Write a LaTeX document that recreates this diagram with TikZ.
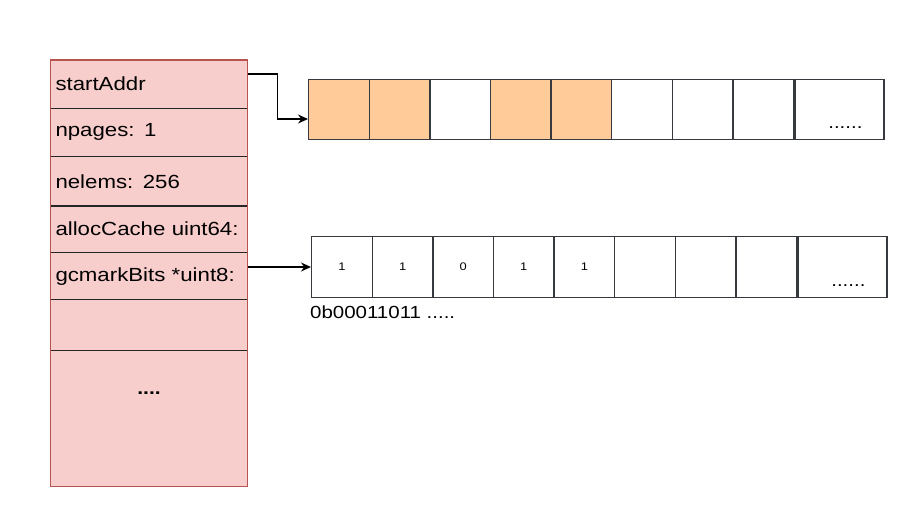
\documentclass[tikz,border=0pt]{standalone}
\usepackage{fontspec}
\setmainfont{Liberation Sans}[FakeStretch=1.17]
\usepackage{xcolor}
\usepackage{tikz}
\usetikzlibrary{arrows.meta,positioning}

\definecolor{rowpink}{HTML}{F8CECC}
\definecolor{rowedge}{HTML}{B85450}
\definecolor{pagefill}{HTML}{FFCC99}
\definecolor{cellline}{HTML}{36393D}

\begin{document}
\begin{tikzpicture}[
  x=1pt,y=-1pt,>={Stealth[length=10pt,width=9pt]},
  link/.style={->,line width=1.3pt},
  row/.style={fill=rowpink,minimum width=197pt,text width=187pt,
    inner xsep=5pt,inner ysep=0pt,align=left,
    font=\fontsize{19}{23}\selectfont},
  sep/.style={line width=1.3pt,black!85},
  frame/.style={line width=1.4pt,draw=rowedge},
  cell/.style={draw=cellline,line width=1.4pt,minimum width=60.6pt,
    minimum height=60.5pt,inner sep=0pt,anchor=west},
  dots/.style={font=\fontsize{17.5}{20}\selectfont},
  bitval/.style={font=\fontsize{11}{13}\selectfont}
]
  \useasboundingbox (0,0) rectangle (916,504);

  % span fields
  \node[row,minimum height=48pt] (start) at (149,84) {startAddr};
  \node[row,minimum height=48pt,below=0pt of start] (npages) {npages: 1};
  \node[row,minimum height=49pt,below=0pt of npages] (nelems) {nelems: 256};
  \node[row,minimum height=46pt,below=0pt of nelems] (alloc)
    {allocCache uint64:};
  \node[row,minimum height=47pt,below=0pt of alloc] (gcmark)
    {gcmarkBits *uint8:};
  \node[row,minimum height=50pt,below=0pt of gcmark] (blank) {};
  \node[row,minimum height=136pt,below=0pt of blank] (more) {};
  \node[font=\fontsize{18}{20}\bfseries\selectfont] (moredots)
    at (149,393) {....};
  \foreach \r in {start,npages,nelems,alloc,gcmark,blank}
    \draw[sep] (\r.south west) -- (\r.south east);
  \draw[frame] (start.north west) rectangle (more.south east);

  % pages
  \foreach \c [count=\i from 0] in
      {pagefill,pagefill,white,pagefill,pagefill,white,white,white}
    \node[cell,fill=\c] (top\i) at (308+60.6*\i,109.5) {};
  \node[cell,minimum width=89pt] (topend) at (top7.east) {};
  \node[dots,above=8pt of topend.south,xshift=6pt] (topdots) {......};

  % mark bits
  \foreach \v [count=\i from 0] in {1,1,0,1,1,{},{},{}}
    \node[cell,bitval] (bit\i) at (311+60.6*\i,267) {\v};
  \node[cell,minimum width=89pt] (bitend) at (bit7.east) {};
  \node[dots,above=8pt of bitend.south,xshift=6pt] (bitdots) {......};
  \node[anchor=base west,inner sep=0pt,dots] (bitslabel)
    at (310,318) {0b00011011 .....};

  \draw[link] ([yshift=10pt]start.east) -- ++(30,0)
    |- ([yshift=-9.5pt]top0.west);
  \draw[link] (gcmark.east |- bit0.west) -- (bit0.west);
\end{tikzpicture}
\end{document}
